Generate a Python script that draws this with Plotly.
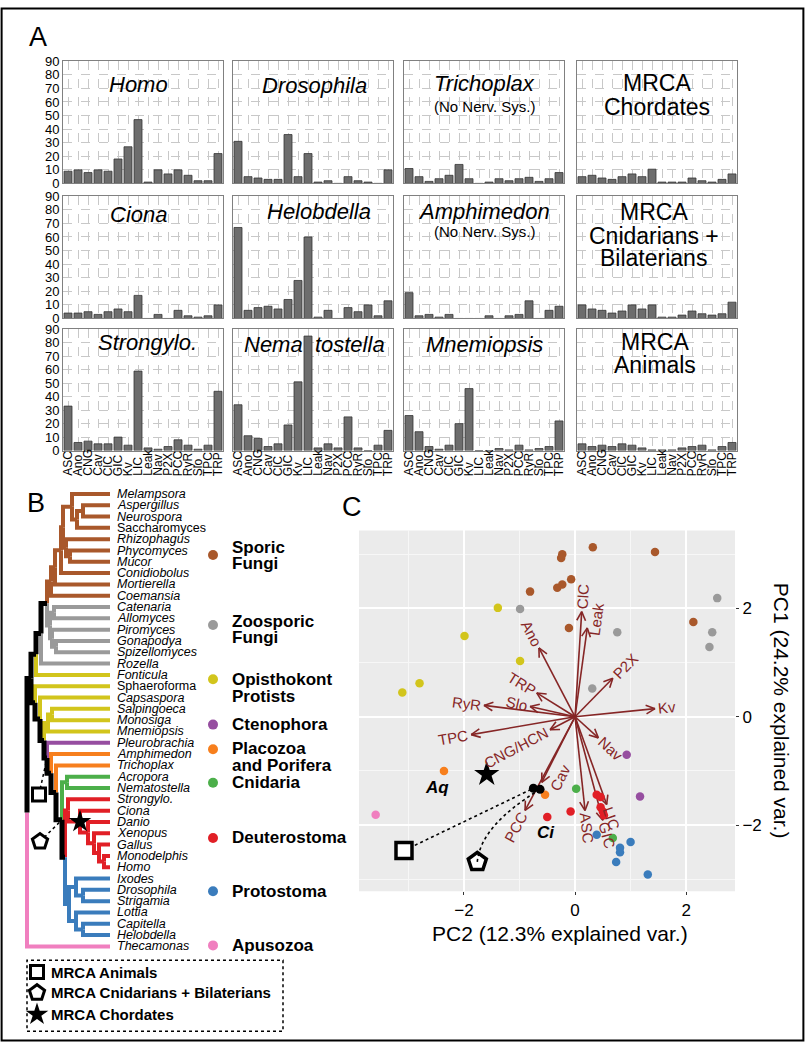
import math
import plotly.graph_objects as go

W, H = 805, 1050
FONT = "Liberation Sans, Arial, sans-serif"

# ---------------- Panel A data ----------------
CHANNELS = ["ASC", "Ano", "CNG", "Cav", "ClC", "GIC", "Kv", "LIC",
            "Leak", "Nav", "P2X", "PCC", "RyR", "Slo", "TPC", "TRP"]

homo = [9, 10, 8, 10, 9, 18, 27, 47, 1, 10, 7, 10, 6, 2, 2, 22]
drosophila = [31, 5, 4, 3, 3, 36, 5, 22, 1, 2, 0, 5, 2, 1, 0, 10]
trichoplax = [11, 5, 1.5, 3.5, 6, 14, 3.5, 0, 1, 3.5, 2, 3.5, 4.5, 1.5, 3.5, 8]
mrca_chordates = [5, 6, 4, 3, 5, 7, 5, 10.5, 1, 1, 1, 4, 2, 1, 3, 7]
ciona = [4, 4, 5, 3, 5, 7, 5, 17, 0, 3, 0, 6, 2, 1, 2, 10]
helobdella = [67, 6, 8, 9, 7, 14, 28, 60, 1, 6, 0, 8, 5, 10, 2, 13]
amphimedon = [19, 2, 3, 1, 3, 0, 0, 0, 2, 0, 2, 3, 13, 0, 6, 9]
mrca_cnid_bilat = [10, 7, 6, 4, 5.5, 10, 7, 10, 1, 1, 2.5, 5.5, 3.5, 2.5, 3.5, 12]
strongylo = [33, 6, 7, 5, 5, 10, 4, 59, 2, 1, 3, 8, 4, 1, 4, 44]
nematostella = [34, 11, 9, 3, 5, 19, 51, 85, 2, 5, 2, 25, 2, 0, 4, 15]
mnemiopsis = [26, 14, 3, 1, 4, 20, 46, 0, 0, 1.5, 0.5, 4, 0.5, 1.5, 3, 22]
mrca_animals = [5, 3, 4, 3, 5, 4, 2, 0.5, 0.5, 0.5, 2, 3, 4, 0.5, 3, 6]

Y_TICKS = list(range(0, 91, 10))

# (values, [(text, size, italic, offset px from panel top, x fraction)])
BAR_PANELS = [
    (homo, [("Homo", 22, True, 24, 0.47)]),
    (drosophila, [("Drosophila", 22, True, 25, 0.51)]),
    (trichoplax, [("Trichoplax", 22, True, 23, 0.5), ("(No Nerv. Sys.)", 15, False, 46, 0.5)]),
    (mrca_chordates, [("MRCA", 23, False, 22, 0.5), ("Chordates", 23, False, 46, 0.5)]),
    (ciona, [("Ciona", 22, True, 18, 0.47)]),
    (helobdella, [("Helobdella", 22, True, 15, 0.54)]),
    (amphimedon, [("Amphimedon", 22, True, 15, 0.5), ("(No Nerv. Sys.)", 15, False, 36, 0.5)]),
    (mrca_cnid_bilat, [("MRCA", 23, False, 16, 0.48), ("Cnidarians +", 23, False, 40, 0.48),
                       ("Bilaterians", 23, False, 63, 0.48)]),
    (strongylo, [("Strongylo.", 22, True, 13, 0.53)]),
    (nematostella, [("Nema\u00a0\u00a0tostella", 22, True, 15, 0.51)]),
    (mnemiopsis, [("Mnemiopsis", 22, True, 15, 0.5)]),
    (mrca_animals, [("MRCA", 23, False, 13, 0.49), ("Animals", 23, False, 36, 0.49)]),
]

COL_PX = [(63, 223), (233, 393), (404, 564), (577, 737)]
ROW_PX = [(55, 179), (192, 316), (327, 450)]
XLABEL_BOTTOM_PX = 478   # rotated channel labels start (bottom-aligned) here

# ---------------- Panel B data ----------------
LEAVES = ["Melampsora", "Aspergillus", "Neurospora", "Saccharomyces", "Rhizophagus",
          "Phycomyces", "Mucor", "Conidiobolus", "Mortierella", "Coemansia",
          "Catenaria", "Allomyces", "Piromyces", "Gonapodya", "Spizellomyces", "Rozella",
          "Fonticula", "Sphaeroforma", "Capsaspora", "Salpingoeca", "Monosiga",
          "Mnemiopsis", "Pleurobrachia", "Amphimedon", "Trichoplax", "Acropora",
          "Nematostella", "Strongylo.", "Ciona", "Danio", "Xenopus", "Gallus",
          "Monodelphis", "Homo", "Ixodes", "Drosophila", "Strigamia", "Lottia",
          "Capitella", "Helobdella", "Thecamonas"]
NON_ITALIC = ["Saccharomyces", "Sphaeroforma"]
# group of each leaf branch as drawn in the tree
LEAF_GROUP = (["Sporic"] * 10 + ["Zoosporic"] * 6 + ["Protists"] * 6 + ["Ctenophora"]
              + ["Placozoa"] * 2 + ["Cnidaria"] * 2 + ["Deuterostoma"] * 7
              + ["Protostoma"] * 6 + ["Apusozoa"])

GROUP_COLORS = {
    "Sporic": "#a9582b", "Zoosporic": "#9a9a9a", "Protists": "#d2c51c",
    "Ctenophora": "#964ea0", "Placozoa": "#f77f1d", "Cnidaria": "#4caf4a",
    "Deuterostoma": "#e11f26", "Protostoma": "#3a7cbc", "Apusozoa": "#f07fbf",
}

# nested tree: (node name, node depth, children...)
DIKARYA = ("Dikarya", 72, "Melampsora",
           ("A2", 77, ("A1", 83, "Aspergillus", "Neurospora"), "Saccharomyces"))
MUCO = ("Muco", 66, "Rhizophagus", ("M1", 70, "Phycomyces", "Mucor"))
SPORIC = ("SporicFungi", 51,
          ("S3", 55, ("S2", 61, ("S1", 63, DIKARYA, MUCO), "Conidiobolus"), "Mortierella"),
          "Coemansia")
ZOO = ("Zoo", 50, ("Z1", 54, "Catenaria", "Allomyces"),
       ("Z3", 52, "Piromyces", ("Z2", 56, "Gonapodya", "Spizellomyces")))
FUNGI = ("Fungi", 41, ("F1", 47, SPORIC, ZOO), "Rozella")
HOLOMYCOTA = ("Holomycota", 36, FUNGI, "Fonticula")
VERT = ("V1", 88, "Danio",
        ("V2", 94, "Xenopus", ("V3", 99, "Gallus", ("V4", 104, "Monodelphis", "Homo"))))
DEUT = ("Deut", 68, "Strongylo.", ("Chordates", 80, "Ciona", VERT))
PROTO = ("Proto", 69, ("P1", 76, "Ixodes", ("P2", 83, "Drosophila", "Strigamia")),
         ("P3", 76, "Lottia", ("P4", 83, "Capitella", "Helobdella")))
CNIDBILAT = ("CnidBilat", 62, ("Cnid", 67, "Acropora", "Nematostella"),
             ("Bilat", 65, DEUT, PROTO))
ANIMALS = ("Animals", 47, "Pleurobrachia",
           ("AN2", 51, "Amphimedon", ("AN3", 56, "Trichoplax", CNIDBILAT)))
HOLOZOA = ("Holozoa", 35, "Sphaeroforma",
           ("Filozoa", 40, "Capsaspora",
            ("Choanozoa", 44,
             ("Choano", 48, ("C1", 52, "Salpingoeca", "Monosiga"), "Mnemiopsis"),
             ANIMALS)))
TREE = ("root", 27, ("Opisthokonta", 31, HOLOMYCOTA, HOLOZOA), "Thecamonas")
LEAF_X = 110

# legend of groups: (group, lines, y px of rows, dot y px)
GROUP_LEGEND = [
    ("Sporic", ["Sporic", "Fungi"], [548, 565], 556),
    ("Zoosporic", ["Zoosporic", "Fungi"], [623, 640], 627),
    ("Protists", ["Opisthokont", "Protists"], [682, 699], 682),
    ("Ctenophora", ["Ctenophora"], [728], 728),
    ("Placozoa", ["Placozoa", "and Porifera"], [752, 769], 753),
    ("Cnidaria", ["Cnidaria"], [787], 787),
    ("Deuterostoma", ["Deuterostoma"], [843], 843),
    ("Protostoma", ["Protostoma"], [897], 897),
    ("Apusozoa", ["Apusozoa"], [952], 952),
]

# MRCA markers: (node, symbol, size, offset px right, offset px down)
TREE_MARKERS = [("Animals", "square", 13, -8, 37),
                ("CnidBilat", "pentagon", 16, -22, 22),
                ("Chordates", "star", 17, 0, 0)]
MRCA_LEGEND = [("square", 13, "MRCA Animals", 979),
               ("pentagon", 16, "MRCA Cnidarians + Bilaterians", 1000),
               ("star", 17, "MRCA Chordates", 1022)]

# ---------------- Panel C data ----------------
PCA_GROUPS = ["Sporic", "Zoosporic", "Protists", "Ctenophora", "Placozoa",
              "Cnidaria", "Deuterostoma", "Protostoma", "Apusozoa"]
pc2 = {
    "Sporic": [0.32, 1.44, -0.23, -0.25, -0.07, -0.23, -0.32, -0.81, -0.11, 2.13],
    "Zoosporic": [-0.99, 2.56, 0.76, 2.47, 2.42, 0.31],
    "Protists": [-1.39, -1.99, -0.99, -2.80, -3.11],
    "Ctenophora": [0.93, 1.17],
    "Placozoa": [-2.36, -0.54],
    "Cnidaria": [0.02, 0.68],
    "Deuterostoma": [-0.50, -0.08, 0.39, 0.46, 0.46, 0.50, 0.52],
    "Protostoma": [0.39, 1.00, 0.81, 0.81, 0.74, 1.31],
    "Apusozoa": [-3.59],
}
pc1 = {
    "Sporic": [3.13, 3.04, 3.00, 2.93, 2.54, 2.44, 2.38, 2.31, 1.64, 1.75],
    "Zoosporic": [1.99, 2.19, 1.56, 1.56, 1.29, 0.52],
    "Protists": [2.01, 1.49, 1.03, 0.62, 0.45],
    "Ctenophora": [-0.70, -1.47],
    "Placozoa": [-1.00, -1.44],
    "Cnidaria": [-1.33, -2.24],
    "Deuterostoma": [-1.85, -1.75, -1.44, -1.48, -1.67, -1.75, -1.82],
    "Protostoma": [-2.18, -2.31, -2.42, -2.50, -2.68, -2.91],
    "Apusozoa": [-1.81],
}

LOADING_NAMES = ["ClC", "Leak", "Ano", "P2X", "TRP", "Slo", "RyR", "Kv",
                 "TPC", "CNG/HCN", "Nav", "Cav", "PCC", "ASC", "GIC", "LIC"]
LOADING_PC2 = [0.12, 0.22, -0.65, 0.68, -0.69, -0.81, -1.64, 1.44,
               -1.87, -0.45, 0.42, -0.60, -0.90, 0.18, 0.50, 0.57]
LOADING_PC1 = [1.94, 1.64, 1.27, 0.71, 0.44, 0.19, 0.21, 0.15,
               -0.33, -0.24, -0.39, -1.21, -1.73, -1.73, -1.91, -1.62]
# small manual nudges of a few loading labels (px: right, up)
LABEL_NUDGE = {"Leak": (7, -10), "Cav": (26, 19)}

# projected ancestors (black dots) and their callout markers
MRCA_PROJ_PC2 = [-0.75, -0.63]
MRCA_PROJ_PC1 = [-1.32, -1.34]
CALLOUT_PC2 = [-3.08, -1.76]
CALLOUT_PC1 = [-2.47, -2.68]
CHORD_PC2, CHORD_PC1 = -1.59, -1.06
POINT_LABELS = [("Aq", -2.36, -1.00, -7, -17), ("Ci", -0.50, -1.85, -1, -16)]

PC_X_RANGE = [-3.89, 2.88]
PC_Y_RANGE = [-3.22, 3.44]
PC_DOMAIN_PX = (359, 735, 531, 897)

ARROW_COLOR = "#862626"

# approximate glyph widths (em) for label length estimates
GLYPH_W = {"A": .667, "S": .667, "C": .722, "N": .722, "G": .778, "I": .278, "K": .667,
           "L": .556, "P": .667, "X": .667, "R": .722, "T": .611, "H": .722, "/": .278,
           "2": .556, "n": .556, "o": .556, "a": .556, "v": .5, "l": .222, "e": .556,
           "k": .5, "y": .5}

# =====================================================================
fig = go.Figure()
layout = {}
annotations = []
shapes = []

GRID = "#c8c8c8"
BORDER = "#808080"

for k, (vals, title) in enumerate(BAR_PANELS):
    r, c = divmod(k, 4)
    n = k + 1
    sfx = "" if n == 1 else str(n)
    xref, yref = "x" + sfx, "y" + sfx
    x0, x1 = COL_PX[c]
    y0, y1 = ROW_PX[r]
    fig.add_trace(go.Bar(x=CHANNELS, y=vals, xaxis=xref, yaxis=yref, width=0.8,
                         marker=dict(color="#6d6d6d", line=dict(color="#363636", width=0.8)),
                         showlegend=False, hoverinfo="skip"))
    layout["xaxis" + sfx] = dict(
        domain=[x0 / W, x1 / W], anchor=yref, type="category",
        categoryorder="array", categoryarray=CHANNELS, range=[-0.5, 15.5],
        tickmode="array", tickvals=CHANNELS, ticktext=CHANNELS,
        showgrid=True, gridcolor=GRID, griddash="dash", gridwidth=0.8,
        showline=True, mirror=True, linecolor=BORDER, linewidth=1, zeroline=False,
        ticks="", showticklabels=False, fixedrange=True)
    layout["yaxis" + sfx] = dict(
        domain=[1 - y1 / H, 1 - y0 / H], anchor=xref, range=[0, 90],
        tickvals=Y_TICKS, showgrid=True, gridcolor=GRID, griddash="dash", gridwidth=0.8,
        showline=True, mirror=True, linecolor=BORDER, linewidth=1, zeroline=False,
        ticks="", showticklabels=(c == 0),
        tickfont=dict(size=13, color="black", family=FONT), fixedrange=True)
    for text, size, italic, dy, fx in title:
        annotations.append(dict(
            text=("<i>%s</i>" % text) if italic else text,
            xref=xref + " domain", yref=yref + " domain", x=fx, y=1 - dy / (y1 - y0),
            xanchor="center", yanchor="middle", showarrow=False,
            font=dict(size=size, color="black", family=FONT)))
    if r == 2:
        # channel labels, rotated and bottom-aligned as in the original
        for ch in CHANNELS:
            annotations.append(dict(
                text=ch, xref=xref, yref="paper", x=ch, y=1 - XLABEL_BOTTOM_PX / H,
                xanchor="center", yanchor="bottom", textangle=-90, showarrow=False,
                font=dict(size=12, color="black", family=FONT)))

# ---------------- Panel B: tree ----------------
TREE_DOMAIN_PX = (0, 330, 485, 1045)
LEAF0_PX, LEAF_STEP = 494.0, 11.475
ty_top = (TREE_DOMAIN_PX[2] - LEAF0_PX) / LEAF_STEP
ty_bot = (TREE_DOMAIN_PX[3] - LEAF0_PX) / LEAF_STEP


def ty(py):
    return (py - LEAF0_PX) / LEAF_STEP


edges = {}
node_pos = {}


def walk(node):
    if isinstance(node, str):
        i = LEAVES.index(node)
        return LEAF_X, float(i), {LEAF_GROUP[i]}
    name, depth = node[0], node[1]
    children = node[2:]
    info = [walk(ch) for ch in children]
    ys = [inf[1] for inf in info]
    y = (min(ys) + max(ys)) / 2.0
    groups = set()
    for cx, cy, cg in info:
        groups |= cg
        col = GROUP_COLORS[next(iter(cg))] if len(cg) == 1 else "black"
        xs, yy = edges.setdefault(col, ([], []))
        xs += [depth, depth, cx, None]
        yy += [y, cy, cy, None]
    node_pos[name] = (depth, y)
    return depth, y, groups


walk(TREE)

for col, (xs, yy) in sorted(edges.items(), key=lambda kv: kv[0] == "black"):
    fig.add_trace(go.Scatter(x=xs, y=yy, mode="lines", xaxis="x13", yaxis="y13",
                             line=dict(color=col, width=5 if col == "black" else 4),
                             showlegend=False, hoverinfo="skip"))

for i, leaf in enumerate(LEAVES):
    annotations.append(dict(
        text=leaf if leaf in NON_ITALIC else "<i>%s</i>" % leaf,
        xref="x13", yref="y13", x=LEAF_X + 5, y=i, xanchor="left", yanchor="middle",
        showarrow=False, font=dict(size=12.5, color="black", family=FONT)))

# MRCA markers on tree with dotted leaders
for node, sym, size, dx, dy in TREE_MARKERS:
    nx, ny = node_pos[node]
    mx, my = nx + dx, ny + dy / LEAF_STEP
    if dx or dy:
        fig.add_trace(go.Scatter(x=[mx, nx], y=[my, ny], mode="lines", xaxis="x13", yaxis="y13",
                                 line=dict(color="black", width=1.5, dash="dot"),
                                 showlegend=False, hoverinfo="skip"))
    fig.add_trace(go.Scatter(
        x=[mx], y=[my], mode="markers", xaxis="x13", yaxis="y13", cliponaxis=False,
        marker=dict(symbol=sym, size=size, opacity=1,
                    color="black" if sym == "star" else "white",
                    line=dict(color="black", width=0 if sym == "star" else 3)),
        showlegend=False, hoverinfo="skip"))

# group legend
for g, lines, rows, doty in GROUP_LEGEND:
    fig.add_trace(go.Scatter(x=[213], y=[ty(doty)], mode="markers", xaxis="x13", yaxis="y13",
                             cliponaxis=False, marker=dict(size=10, color=GROUP_COLORS[g]),
                             showlegend=False, hoverinfo="skip"))
    for line, py in zip(lines, rows):
        annotations.append(dict(text="<b>%s</b>" % line, xref="paper", yref="paper",
                                x=230 / W, y=1 - py / H, xanchor="left", yanchor="middle",
                                showarrow=False, font=dict(size=17, color="black", family=FONT)))

# MRCA legend box
for sym, size, label, py in MRCA_LEGEND:
    fig.add_trace(go.Scatter(
        x=[37], y=[ty(py)], mode="markers", xaxis="x13", yaxis="y13", cliponaxis=False,
        marker=dict(symbol=sym, size=size, opacity=1,
                    color="black" if sym == "star" else "white",
                    line=dict(color="black", width=0 if sym == "star" else 3)),
        showlegend=False, hoverinfo="skip"))
    annotations.append(dict(text="<b>%s</b>" % label, xref="paper", yref="paper",
                            x=49 / W, y=1 - py / H, xanchor="left", yanchor="middle",
                            showarrow=False, font=dict(size=15, color="black", family=FONT)))
shapes.append(dict(type="rect", xref="paper", yref="paper", x0=27 / W, x1=283 / W,
                   y0=1 - 1039 / H, y1=1 - 967 / H,
                   line=dict(color="black", width=1.5, dash="dot")))

layout["xaxis13"] = dict(domain=[TREE_DOMAIN_PX[0] / W, TREE_DOMAIN_PX[1] / W],
                         range=[TREE_DOMAIN_PX[0], TREE_DOMAIN_PX[1]], anchor="y13",
                         visible=False, fixedrange=True)
layout["yaxis13"] = dict(domain=[1 - TREE_DOMAIN_PX[3] / H, 1 - TREE_DOMAIN_PX[2] / H],
                         range=[ty_bot, ty_top], anchor="x13", visible=False, fixedrange=True)

# ---------------- Panel C: PCA biplot ----------------
px0, px1, py0, py1 = PC_DOMAIN_PX
SX = (px1 - px0) / (PC_X_RANGE[1] - PC_X_RANGE[0])
SY = (py1 - py0) / (PC_Y_RANGE[1] - PC_Y_RANGE[0])

shapes.append(dict(type="rect", xref="x14 domain", yref="y14 domain", x0=0, x1=1, y0=0, y1=1,
                   fillcolor="#ebebeb", line=dict(width=0), layer="below"))

ax, ay = [], []
HEAD_LEN, HEAD_ANG = 10.0, math.radians(26)
LABEL_FS = 15
for name, lx, ly in zip(LOADING_NAMES, LOADING_PC2, LOADING_PC1):
    ax += [0, lx, None]
    ay += [0, ly, None]
    dxp, dyp = lx * SX, ly * SY
    L = math.hypot(dxp, dyp)
    ux, uy = dxp / L, dyp / L
    for s in (1, -1):
        ca, sa = math.cos(s * HEAD_ANG), math.sin(s * HEAD_ANG)
        hx = ux * ca - uy * sa
        hy = ux * sa + uy * ca
        ax += [lx - HEAD_LEN * hx / SX, lx, None]
        ay += [ly - HEAD_LEN * hy / SY, ly, None]
    # label placed just beyond the tip, rotated along the arrow
    tl = sum(GLYPH_W.get(ch, 0.6) for ch in name) * LABEL_FS
    off = 0.5 * tl + 3
    nx_, ny_ = LABEL_NUDGE.get(name, (0, 0))
    cxp, cyp = dxp + ux * off + nx_, dyp + uy * off + ny_
    ang = math.degrees(math.atan(dyp / dxp)) if dxp != 0 else 90
    annotations.append(dict(text=name, xref="x14", yref="y14", x=cxp / SX, y=cyp / SY,
                            xanchor="center", yanchor="middle", textangle=-ang,
                            showarrow=False,
                            font=dict(size=LABEL_FS, color=ARROW_COLOR, family=FONT)))

fig.add_trace(go.Scatter(x=ax, y=ay, mode="lines", xaxis="x14", yaxis="y14",
                         line=dict(color=ARROW_COLOR, width=1.6),
                         showlegend=False, hoverinfo="skip"))

for g in PCA_GROUPS:
    fig.add_trace(go.Scatter(x=pc2[g], y=pc1[g], mode="markers", xaxis="x14", yaxis="y14",
                             marker=dict(size=8.5, color=GROUP_COLORS[g]),
                             showlegend=False, hoverinfo="skip"))

# dotted callouts to projected ancestors
sq_x, sq_y = CALLOUT_PC2[0], CALLOUT_PC1[0]
fig.add_trace(go.Scatter(x=[sq_x, MRCA_PROJ_PC2[0]], y=[sq_y, MRCA_PROJ_PC1[0]], mode="lines",
                         xaxis="x14", yaxis="y14",
                         line=dict(color="black", width=1.6, dash="dot"),
                         showlegend=False, hoverinfo="skip"))
p0x, p0y = CALLOUT_PC2[1], CALLOUT_PC1[1]
p1x, p1y = MRCA_PROJ_PC2[1], MRCA_PROJ_PC1[1]
cqx, cqy = p0x + 0.05 * (p1x - p0x), p0y + 0.5 * (p1y - p0y)
shapes.append(dict(type="path", xref="x14", yref="y14",
                   path="M %f,%f Q %f,%f %f,%f" % (p0x, p0y, cqx, cqy, p1x, p1y),
                   line=dict(color="black", width=1.6, dash="dot")))

fig.add_trace(go.Scatter(x=MRCA_PROJ_PC2, y=MRCA_PROJ_PC1, mode="markers",
                         xaxis="x14", yaxis="y14", marker=dict(size=9, color="black"),
                         showlegend=False, hoverinfo="skip"))
fig.add_trace(go.Scatter(x=CALLOUT_PC2, y=CALLOUT_PC1, mode="markers", xaxis="x14", yaxis="y14",
                         marker=dict(symbol=["square", "pentagon"], size=[16, 19], color="white",
                                     opacity=1, line=dict(color="black", width=3.5)),
                         showlegend=False, hoverinfo="skip"))
fig.add_trace(go.Scatter(x=[CHORD_PC2], y=[CHORD_PC1], mode="markers", xaxis="x14", yaxis="y14",
                         marker=dict(symbol="star", size=19, color="black"),
                         showlegend=False, hoverinfo="skip"))

for lab, x, y, xs_, ys_ in POINT_LABELS:
    annotations.append(dict(text="<b><i>%s</i></b>" % lab, xref="x14", yref="y14", x=x, y=y,
                            xshift=xs_, yshift=ys_, showarrow=False,
                            font=dict(size=17, color="black", family=FONT)))


def pc_axis(**kw):
    d = dict(showgrid=True, gridcolor="white", gridwidth=1.5, zeroline=False,
             ticks="outside", ticklen=3, tickcolor="#333333", tickwidth=1,
             showline=False, fixedrange=True, tickvals=[-2, 0, 2],
             tickfont=dict(size=17, color="black", family=FONT),
             minor=dict(tickvals=[-3, -1, 1, 3], showgrid=True, gridcolor="#f7f7f7",
                        gridwidth=0.8, ticks=""))
    d.update(kw)
    return d


layout["xaxis14"] = pc_axis(domain=[px0 / W, px1 / W], range=PC_X_RANGE, anchor="y14")
layout["yaxis14"] = pc_axis(domain=[1 - py1 / H, 1 - py0 / H], range=PC_Y_RANGE, anchor="x14",
                            side="right")

annotations.append(dict(text="PC2 (12.3% explained var.)", xref="paper", yref="paper",
                        x=560 / W, y=1 - 940 / H, xanchor="center", yanchor="middle",
                        showarrow=False, font=dict(size=21, color="black", family=FONT)))
annotations.append(dict(text="PC1 (24.2% explained var.)", xref="paper", yref="paper",
                        x=781 / W, y=1 - 714 / H, xanchor="center", yanchor="middle",
                        textangle=90, showarrow=False,
                        font=dict(size=21, color="black", family=FONT)))

# panel letters
for letter, lx, ly in [("A", 38, 30), ("B", 36, 503), ("C", 352, 507)]:
    annotations.append(dict(text=letter, xref="paper", yref="paper", x=lx / W, y=1 - ly / H,
                            xanchor="center", yanchor="middle", showarrow=False,
                            font=dict(size=27, color="black", family=FONT)))

# outer frame
shapes.append(dict(type="rect", xref="paper", yref="paper", x0=0.002, x1=0.998,
                   y0=0.0015, y1=0.9985, line=dict(color="black", width=2)))

fig.update_layout(
    width=W, height=H, margin=dict(l=0, r=0, t=0, b=0),
    paper_bgcolor="white", plot_bgcolor="white",
    font=dict(family=FONT, color="black"),
    annotations=annotations, shapes=shapes, showlegend=False, bargap=0.2,
    **layout)

fig.write_html("out.html", config={"displayModeBar": False},
               post_script="document.body.style.margin='0px';document.body.style.padding='0px';")
